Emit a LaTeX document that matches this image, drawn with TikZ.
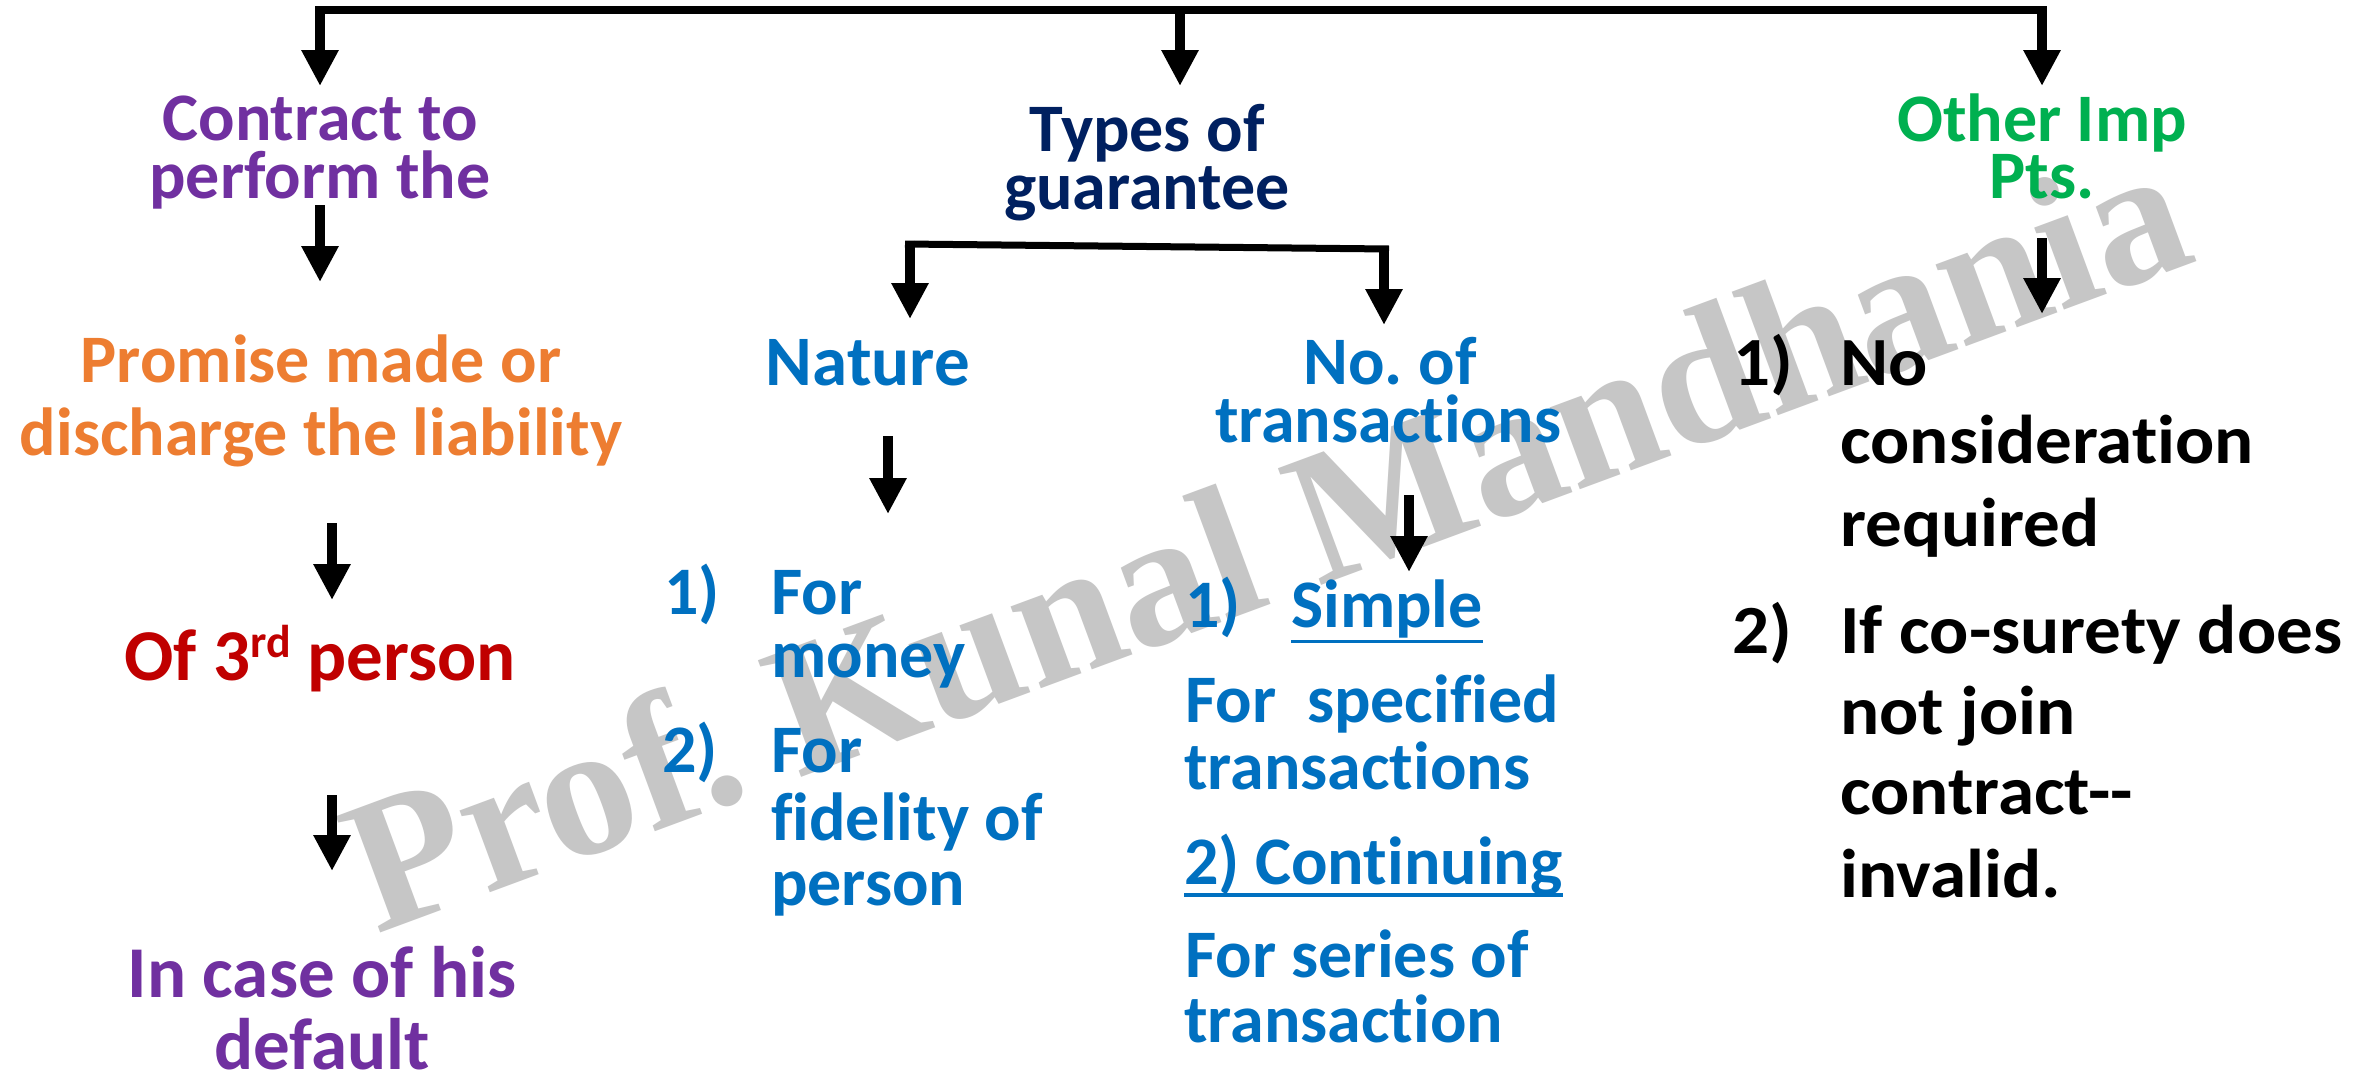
\documentclass[tikz,border=0pt]{standalone}
\usepackage{fontspec}
\usetikzlibrary{arrows.meta}
\newfontfamily\cb{Carlito}[Ligatures=NoCommon]
\newfontfamily\cbw{Carlito}[FakeStretch=1.06, Ligatures=NoCommon]
\newfontfamily\wmserif{Liberation Serif}
\definecolor{cPurple}{HTML}{7030A0}
\definecolor{cOrange}{HTML}{ED7D31}
\definecolor{cRed}{HTML}{C00000}
\definecolor{cNavy}{HTML}{002060}
\definecolor{cBlue}{HTML}{0070C0}
\definecolor{cGreen}{HTML}{00B050}
\definecolor{cMark}{RGB}{198,198,198}
\frenchspacing
\begin{document}
\begin{tikzpicture}[x=1pt,y=-1pt,
  txt/.style={inner sep=0pt, anchor=base, font=\cb\bfseries\fontsize{68}{68}\selectfont},
  large/.style={font=\cb\bfseries\fontsize{73}{73}\selectfont},
  blk/.style={font=\cbw\bfseries\fontsize{69}{69}\selectfont},
  lft/.style={anchor=base west},
  shaft/.style={line width=10pt, -{Triangle[length=36pt,width=35pt]}},
  bar/.style={line width=7.5pt},
  uline/.style={line width=3.5pt}]
\fill[white] (0,0) rectangle (2379,1082);
\useasboundingbox (0,0) rectangle (2379,1082);

% watermark behind everything
\node[anchor=base west, rotate=20.3, inner sep=0pt, text=cMark,
      font=\wmserif\bfseries\fontsize{190}{190}\selectfont] (mark) at (376,935) {Prof. Kunal Mandhania};

% ---- top distribution bar ----
\coordinate (barL) at (315,10);
\coordinate (barR) at (2047,10);
\draw[bar] (barL) -- (barR);
\coordinate (topA) at (320,6.25);   \coordinate (tipA) at (320,86);
\coordinate (topB) at (1180,6.25);  \coordinate (tipB) at (1180,86);
\coordinate (topC) at (2042,6.25);  \coordinate (tipC) at (2042,86);
\draw[shaft] (topA) -- (tipA);
\draw[shaft] (topB) -- (tipB);
\draw[shaft] (topC) -- (tipC);

% ---- left column ----
\node[txt, text=cPurple] (ctA) at (320,140) {Contract to};
\node[txt, text=cPurple] (ctB) at (320,198) {perform the};
\coordinate (l1s) at (320,205); \coordinate (l1e) at (320,282);
\draw[shaft] (l1s) -- (l1e);
\node[txt, text=cOrange] (prA) at (321,382) {Promise made or};
\node[txt, text=cOrange] (prB) at (321,455) {discharge the liability};
\coordinate (l2s) at (332,523); \coordinate (l2e) at (332,600);
\draw[shaft] (l2s) -- (l2e);
\node[txt, text=cRed, font=\cb\bfseries\fontsize{73}{73}\selectfont] (third) at (320,680)
  {Of 3\raisebox{0.31em}{\fontsize{46}{46}\selectfont rd} person};
\coordinate (l3s) at (332,795); \coordinate (l3e) at (332,871);
\draw[shaft] (l3s) -- (l3e);
\node[txt, large, text=cPurple] (dfA) at (322,997) {In case of his};
\node[txt, large, text=cPurple] (dfB) at (322,1069) {default};

% ---- middle column ----
\node[txt, text=cNavy] (tyA) at (1147,151) {Types of};
\node[txt, text=cNavy] (tyB) at (1147,209) {guarantee};
\coordinate (sbL) at (905,244);
\coordinate (sbR) at (1389,249);
\draw[line width=7pt] (sbL) -- (sbR);
\coordinate (sbA) at (910,240.5);  \coordinate (sbAe) at (910,319);
\coordinate (sbB) at (1384,245.5); \coordinate (sbBe) at (1384,325);
\draw[shaft] (sbA) -- (sbAe);
\draw[shaft] (sbB) -- (sbBe);

\node[txt, text=cBlue, font=\cb\bfseries\fontsize{71}{71}\selectfont] (nat) at (868,385) {Nature};
\node[txt, text=cBlue] (noA) at (1390,384) {No. of};
\node[txt, text=cBlue] (noB) at (1388,442.5) {transactions};
\coordinate (n1s) at (888,436); \coordinate (n1e) at (888,514);
\draw[shaft] (n1s) -- (n1e);
\coordinate (n2s) at (1409,495); \coordinate (n2e) at (1409,572);
\draw[shaft] (n2s) -- (n2e);

% nature list
\node[txt, lft, text=cBlue] (naN1) at (664,614) {1)};
\node[txt, lft, text=cBlue] (naA) at (771,614) {For};
\node[txt, lft, text=cBlue] (naB) at (771,677.5) {money};
\node[txt, lft, text=cBlue] (naN2) at (662,772.5) {2)};
\node[txt, lft, text=cBlue] (naC) at (771,772.5) {For};
\node[txt, lft, text=cBlue] (naD) at (771,840) {fidelity of};
\node[txt, lft, text=cBlue] (naE) at (771,905) {person};

% transactions list
\node[txt, lft, text=cBlue] (trN1) at (1185,627.5) {1)};
\node[txt, lft, text=cBlue] (trS) at (1291,627.5) {Simple};
\draw[uline, cBlue] ([yshift=-14pt]trS.base west) -- ([yshift=-14pt]trS.base east);
\node[txt, lft, text=cBlue] (trA) at (1185,722.5) {For\ \ specified};
\node[txt, lft, text=cBlue] (trB) at (1184,789) {transactions};
\node[txt, lft, text=cBlue] (trC) at (1184,884) {2) Continuing};
\draw[uline, cBlue] ([yshift=-11pt]trC.base west) -- ([yshift=-11pt]trC.base east);
\node[txt, lft, text=cBlue] (trD) at (1185,977.5) {For series of};
\node[txt, lft, text=cBlue] (trE) at (1184,1042.5) {transaction};

% ---- right column ----
\node[txt, text=cGreen] (otA) at (2042,141) {Other Imp};
\node[txt, text=cGreen] (otB) at (2042,198) {Pts.};
\coordinate (r1s) at (2042,238); \coordinate (r1e) at (2042,314);
\draw[shaft] (r1s) -- (r1e);
\node[txt, blk, lft] (rN1) at (1733,385) {1)};
\node[txt, blk, lft] (rA) at (1840,385) {No};
\node[txt, blk, lft] (rB) at (1840,463) {consideration};
\node[txt, blk, lft] (rC) at (1840,546) {required};
\node[txt, blk, lft] (rN2) at (1732,653.5) {2)};
\node[txt, blk, lft] (rD) at (1840,653.5) {If co-surety does};
\node[txt, blk, lft] (rE) at (1840,734) {not join};
\node[txt, blk, lft] (rF) at (1840,814.5) {contract-{}-};
\node[txt, blk, lft] (rG) at (1840,897) {invalid.};
\end{tikzpicture}
\end{document}
